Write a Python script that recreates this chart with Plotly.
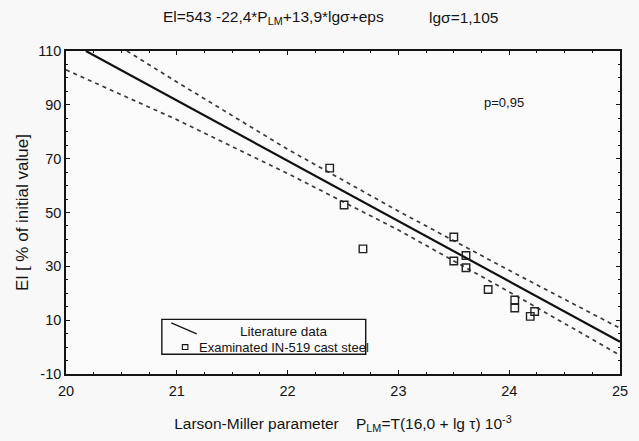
import plotly.graph_objects as go

# Regression line (literature data)
fit_P = [20.18, 25.0]
fit_El = [110.0, 2.0]

# Confidence band p=0.95
upper_P = [20.55, 21.0, 22.0, 23.0, 24.0, 25.0]
upper_El = [110.0, 98.5, 73.5, 50.5, 28.5, 7.0]
lower_P = [20.0, 21.0, 22.0, 23.0, 24.0, 25.0]
lower_El = [103.0, 84.5, 64.5, 43.5, 20.5, -3.0]

# Examined IN-519 cast steel
exp_P = [22.38, 22.51, 22.68, 23.50, 23.61, 23.50, 23.61, 23.81, 24.05, 24.05, 24.23, 24.19]
exp_El = [66.5, 52.8, 36.5, 40.9, 34.0, 32.0, 29.5, 21.4, 17.5, 14.5, 13.2, 11.4]

x_ticks = [20, 21, 22, 23, 24, 25]
y_ticks = [-10, 10, 30, 50, 70, 90, 110]

FONT = "Liberation Sans, Arial, sans-serif"
INK = "#141414"
BG = "#f8f8f8"

fig = go.Figure()
fig.add_trace(go.Scatter(x=upper_P, y=upper_El, mode="lines",
                         line=dict(color="#3a3a3a", width=1.7, dash="4px,4px"),
                         showlegend=False, hoverinfo="skip"))
fig.add_trace(go.Scatter(x=lower_P, y=lower_El, mode="lines",
                         line=dict(color="#3a3a3a", width=1.7, dash="4px,4px"),
                         showlegend=False, hoverinfo="skip"))
fig.add_trace(go.Scatter(x=fit_P, y=fit_El, mode="lines",
                         line=dict(color="#111111", width=2.2),
                         showlegend=False))
fig.add_trace(go.Scatter(x=exp_P, y=exp_El, mode="markers",
                         marker=dict(symbol="square-open", size=7.5,
                                     color="#222222", line=dict(width=1.4)),
                         showlegend=False))

# Custom legend box (paper coordinates)
fig.add_shape(type="rect", xref="paper", yref="paper",
              x0=0.173, x1=0.541, y0=0.061, y1=0.169,
              line=dict(color=INK, width=1.4), fillcolor="#fafafa")
fig.add_shape(type="line", xref="paper", yref="paper",
              x0=0.190, x1=0.236, y0=0.158, y1=0.124,
              line=dict(color=INK, width=1.3))
fig.add_shape(type="rect", xref="paper", yref="paper",
              x0=0.210, x1=0.220, y0=0.076, y1=0.091,
              line=dict(color=INK, width=1.1))
fig.add_annotation(xref="paper", yref="paper", x=0.393, y=0.131,
                   text="Literature data", showarrow=False,
                   font=dict(family=FONT, size=13.5, color=INK), xanchor="center", yanchor="middle")
fig.add_annotation(xref="paper", yref="paper", x=0.236, y=0.083,
                   text="Examinated IN-519 cast steel", showarrow=False,
                   font=dict(family=FONT, size=13, color=INK), xanchor="left", yanchor="middle")

fig.add_annotation(xref="paper", yref="paper", x=0.79, y=0.84,
                   text="p=0,95", showarrow=False,
                   font=dict(family=FONT, size=13, color=INK), xanchor="center", yanchor="middle")

# Header texts
fig.add_annotation(xref="paper", yref="paper", x=0.172, y=1.104,
                   text="El=543 -22,4*P<sub>LM</sub>+13,9*lgσ+eps", showarrow=False,
                   font=dict(family=FONT, size=15.5, color=INK), xanchor="left", yanchor="middle")
fig.add_annotation(xref="paper", yref="paper", x=0.651, y=1.104,
                   text="lgσ=1,105", showarrow=False,
                   font=dict(family=FONT, size=15.5, color=INK), xanchor="left", yanchor="middle")

axis_common = dict(showgrid=False, zeroline=False, showline=True, mirror="ticks",
                   linecolor=INK, linewidth=1.6, ticks="inside", ticklen=4,
                   tickcolor=INK, tickwidth=1.2,
                   tickfont=dict(family=FONT, size=14.5, color=INK))

fig.update_xaxes(range=[20, 25], tickvals=x_ticks, ticktext=[str(v) for v in x_ticks],
                 minor=dict(ticks="inside", ticklen=2, tickcolor=INK, dtick=0.25),
                 ticklabelstandoff=3,
                 title=dict(text="Larson-Miller parameter    P<sub>LM</sub>=T(16,0 + lg τ) 10<sup>-3</sup>",
                            font=dict(family=FONT, size=15.5, color=INK), standoff=20),
                 **axis_common)
fig.update_yaxes(range=[-10, 110], tickvals=y_ticks, ticktext=[str(v) for v in y_ticks],
                 minor=dict(ticks="inside", ticklen=2, tickcolor=INK, dtick=5, tick0=-10),
                 title=dict(text="El [ % of initial value]",
                            font=dict(family=FONT, size=17, color=INK), standoff=5),
                 **axis_common)

fig.update_layout(width=639, height=441,
                  margin=dict(l=66, r=11, t=51, b=64),
                  paper_bgcolor=BG, plot_bgcolor="#fafafa",
                  showlegend=False)

# remove the page's default body margin and scrollbars so the figure fills the window exactly
fig.write_html("out.html",
               config={"displayModeBar": False},
               post_script="document.documentElement.style.overflow='hidden';"
                           "document.body.style.overflow='hidden';"
                           "document.body.style.margin='0';"
                           "document.body.style.background='%s';" % BG)
